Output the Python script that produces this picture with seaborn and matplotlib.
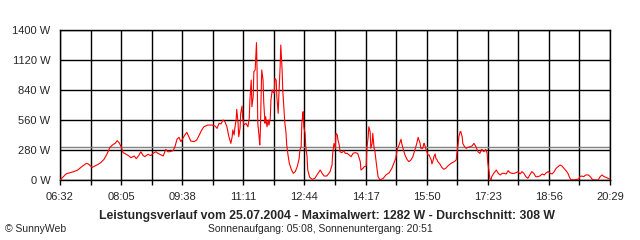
import matplotlib
matplotlib.use("Agg")
import matplotlib.pyplot as plt
import seaborn as sns
import pandas as pd

# time in minutes after midnight, power in W
minutes = [392, 397, 401, 407, 413, 419, 425, 432, 435, 441, 445, 450, 454, 459, 464, 468, 473, 476, 479, 482,
           485, 488, 492, 497, 500, 505, 508, 512, 515, 518, 521, 526, 530, 535, 538, 541, 546, 549, 553, 556,
           559, 564, 567, 570, 573, 576, 579, 582, 585, 588, 591, 596, 600, 604, 607, 611, 617, 623, 628, 631,
           634, 637, 640, 643, 646, 649, 652, 654, 655, 657, 658, 660, 661, 663, 664, 666, 667, 669, 670, 672,
           675, 678, 680, 681, 683, 684, 686, 687, 689, 690, 691, 692, 693, 695, 696, 697, 698, 699, 701, 702,
           704, 705, 707, 709, 710, 712, 713, 715, 716, 718, 719, 721, 722, 724, 725, 727, 728, 730, 731, 733,
           734, 736, 737, 739, 741, 744, 747, 750, 753, 756, 757, 759, 760, 761, 762, 763, 765, 766, 768, 769,
           772, 776, 780, 783, 788, 791, 794, 798, 803, 806, 807, 809, 811, 812, 814, 815, 817, 818, 821, 824,
           826, 829, 832, 835, 838, 841, 845, 849, 850, 853, 855, 858, 859, 861, 862, 864, 865, 867, 868, 870,
           871, 874, 876, 879, 884, 888, 893, 897, 900, 903, 905, 906, 908, 911, 912, 914, 917, 920, 923, 926,
           929, 932, 935, 937, 938, 940, 941, 944, 946, 947, 949, 951, 952, 954, 955, 957, 958, 960, 961, 963,
           964, 966, 967, 970, 973, 976, 979, 982, 986, 989, 992, 995, 996, 998, 999, 1001, 1002, 1004, 1005, 1007,
           1010, 1013, 1016, 1019, 1022, 1025, 1028, 1031, 1033, 1034, 1037, 1040, 1042, 1043, 1045, 1046, 1048, 1049, 1052, 1056,
           1059, 1062, 1065, 1068, 1071, 1074, 1077, 1080, 1083, 1086, 1089, 1092, 1095, 1098, 1101, 1104, 1107, 1110, 1113, 1116,
           1119, 1122, 1126, 1129, 1132, 1135, 1138, 1141, 1144, 1147, 1150, 1153, 1156, 1159, 1162, 1165, 1167, 1169, 1173, 1178,
           1181, 1183, 1186, 1189, 1192, 1196, 1199, 1202, 1206, 1211, 1214, 1217, 1220, 1223, 1226, 1229]
watts = [0, 30, 56, 68, 78, 93, 124, 155, 150, 118, 130, 146, 162, 193, 249, 305, 333, 342, 367, 348,
         311, 255, 243, 224, 208, 224, 199, 230, 264, 233, 218, 240, 227, 255, 264, 249, 233, 224, 286, 264,
         264, 274, 311, 380, 398, 358, 389, 420, 445, 404, 364, 358, 373, 420, 460, 497, 513, 513, 504, 482,
         529, 523, 560, 544, 497, 404, 342, 404, 467, 420, 482, 560, 660, 529, 404, 482, 622, 690, 576, 513,
         529, 497, 576, 747, 933, 684, 778, 1011, 1027, 1151, 1282, 996, 529, 404, 327, 467, 778, 1027, 933, 731,
         529, 591, 497, 560, 513, 576, 747, 840, 824, 809, 949, 933, 778, 622, 778, 1058, 1260, 1027, 840, 653,
         544, 436, 327, 233, 155, 100, 62, 78, 124, 202, 280, 311, 529, 576, 638, 497, 436, 311, 218, 93,
         25, 6, 16, 47, 93, 62, 37, 37, 78, 140, 249, 342, 296, 436, 420, 373, 327, 264, 255, 274,
         249, 249, 233, 218, 249, 255, 249, 171, 93, 109, 124, 130, 296, 404, 497, 451, 296, 342, 436, 296,
         280, 124, 31, 0, 16, 47, 68, 109, 155, 202, 280, 296, 327, 380, 342, 296, 233, 193, 171, 187,
         218, 280, 342, 398, 380, 342, 296, 296, 342, 327, 286, 249, 233, 233, 212, 187, 150, 187, 218, 243,
         202, 187, 171, 150, 118, 100, 109, 130, 150, 162, 171, 187, 249, 342, 404, 451, 451, 404, 342, 317,
         296, 305, 311, 317, 342, 311, 264, 249, 280, 286, 264, 286, 249, 162, 78, 16, 0, 31, 62, 93,
         62, 47, 62, 62, 56, 87, 68, 62, 62, 68, 78, 56, 78, 62, 31, 16, 47, 78, 62, 31,
         31, 37, 56, 47, 68, 78, 62, 56, 78, 109, 124, 140, 130, 109, 87, 62, 31, 6, 0, 6,
         6, 31, 37, 31, 47, 47, 31, 6, 0, 0, 31, 47, 31, 25, 16, 6]

average_w = 308
tick_minutes = [392, 438.5, 485, 531.5, 578, 624.5, 671, 717.5, 764, 810.5, 857, 903.5, 950, 996.5,
                1043, 1089.5, 1136, 1182.5, 1229]
tick_labels = ["06:32", "", "08:05", "", "09:38", "", "11:11", "", "12:44", "", "14:17", "",
               "15:50", "", "17:23", "", "18:56", "", "20:29"]
y_ticks = [0, 280, 560, 840, 1120, 1400]
y_labels = ["0 W", "280 W", "560 W", "840 W", "1120 W", "1400 W"]
title = "Leistungsverlauf vom 25.07.2004 - Maximalwert: 1282 W - Durchschnitt: 308 W"
subtitle = "Sonnenaufgang: 05:08, Sonnenuntergang: 20:51"
credit = "\u00a9 SunnyWeb"

sns.set_style("white")
plt.rcParams["font.family"] = ["Liberation Sans", "DejaVu Sans"]

df = pd.DataFrame({"t": minutes, "w": watts})

fig = plt.figure(figsize=(6.4, 2.4), dpi=100)
ax = fig.add_axes([60 / 640, 60 / 240, 550 / 640, 150 / 240])

ax.axhline(average_w, color="#808080", linewidth=1.0, zorder=2)
sns.lineplot(data=df, x="t", y="w", ax=ax, color="#ff0000", linewidth=0.8,
             estimator=None, sort=False, zorder=3)

ax.set_xlim(tick_minutes[0], tick_minutes[-1])
ax.set_ylim(y_ticks[0], y_ticks[-1])
ax.set_xticks(tick_minutes)
ax.set_xticklabels(tick_labels)
ax.set_yticks(y_ticks)
ax.set_yticklabels(y_labels)
ax.set_xlabel("")
ax.set_ylabel("")
ax.grid(True, color="black", linewidth=1.0)
ax.set_axisbelow(True)
for s in ax.spines.values():
    s.set_color("black")
    s.set_linewidth(1.0)
ax.tick_params(axis="x", length=3.5, width=1.0, color="black", pad=5, labelsize=8, bottom=True)
ax.tick_params(axis="y", length=0, pad=7, labelsize=8)

fig.text(327 / 640, 1 - 216 / 240, title, ha="center", va="center", fontsize=8.8, fontweight="bold")
fig.text(320 / 640, 1 - 229 / 240, subtitle, ha="center", va="center", fontsize=7.5)
fig.text(5 / 640, 1 - 229 / 240, credit, ha="left", va="center", fontsize=7.5)

fig.savefig("out.png", dpi=100, facecolor="white")
